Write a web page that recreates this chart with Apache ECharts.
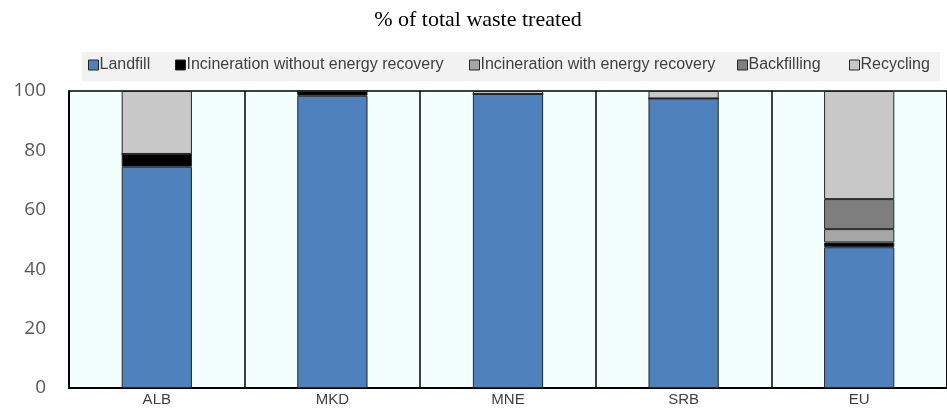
<!DOCTYPE html>
<html><head><meta charset="utf-8">
<script src="https://cdn.jsdelivr.net/npm/echarts@6/dist/echarts.min.js"></script>
<style>html,body{margin:0;padding:0;background:#fff}#c{width:947px;height:412px}</style>
</head><body><div id="c"></div>
<script>
const categories = ['ALB','MKD','MNE','SRB','EU'];
const landfill = [74.5, 98.4, 99.0, 97.5, 47.4];
const incinNoEnergy = [4.3, 1.6, 0, 0, 1.6];
const incinEnergy = [0, 0, 0, 0, 4.5];
const backfilling = [0, 0, 0, 0, 10.1];
const recycling = [21.2, 0, 1.0, 2.5, 36.4];
const yTicks = [0, 20, 40, 60, 80, 100];
const seriesNames = ['Landfill', 'Incineration without energy recovery', 'Incineration with energy recovery', 'Backfilling', 'Recycling'];
const seriesData = [landfill, incinNoEnergy, incinEnergy, backfilling, recycling];
const seriesColors = ['#4F81BD', '#000000', '#A6A6A6', '#7F7F7F', '#C8C8C8'];
const legendLeft = [88, 175, 469, 737, 849];

const sans = '"Liberation Sans Narrow","Liberation Sans",Arial,sans-serif';
const chart = echarts.init(document.getElementById('c'));
chart.setOption({
  animation: false,
  title: {text: '% of total waste treated', left: 473, textAlign: 'center', top: 4,
    textStyle: {fontFamily: '"Liberation Serif","Times New Roman",serif', fontWeight: 'normal', fontSize: 22, color: '#000'}},
  graphic: [{type: 'rect', z: 0, shape: {x: 82, y: 52, width: 858, height: 29}, style: {fill: '#F2F2F2'}}],
  legend: seriesNames.map((n, i) => ({
    left: legendLeft[i], top: 57, padding: 0, itemWidth: 10, itemHeight: 10, icon: 'rect',
    textStyle: {fontFamily: sans, fontSize: 16, color: '#404040', padding: [0, 0, 0, -4]},
    data: [{name: n, itemStyle: {borderColor: '#262626', borderWidth: 1}}]
  })),
  grid: {left: 69, right: -14, top: 91, bottom: 24, show: true, backgroundColor: '#F3FFFF',
    borderColor: '#000', borderWidth: 1.5},
  xAxis: {type: 'category', data: categories,
    axisLine: {show: true, lineStyle: {color: '#000', width: 2}},
    axisTick: {show: false},
    splitLine: {show: true, lineStyle: {color: '#000', width: 1.5}},
    axisLabel: {fontFamily: sans, fontSize: 15, color: '#404040', margin: 4}},
  yAxis: {type: 'value', min: 0, max: 100, interval: 20,
    axisLine: {show: true, lineStyle: {color: '#000', width: 1.5}},
    axisTick: {show: false}, splitLine: {show: false},
    axisLabel: {fontFamily: '"Open Sans","Noto Sans",sans-serif', fontSize: 19, color: '#595959', margin: 23,
      formatter: v => yTicks.includes(v) ? String(v) : ''}},
  series: seriesNames.map((n, i) => ({
    name: n, type: 'bar', stack: 'total', data: seriesData[i], barWidth: '40%',
    itemStyle: {color: seriesColors[i], borderColor: '#262626', borderWidth: 1}
  }))
});
</script></body></html>
